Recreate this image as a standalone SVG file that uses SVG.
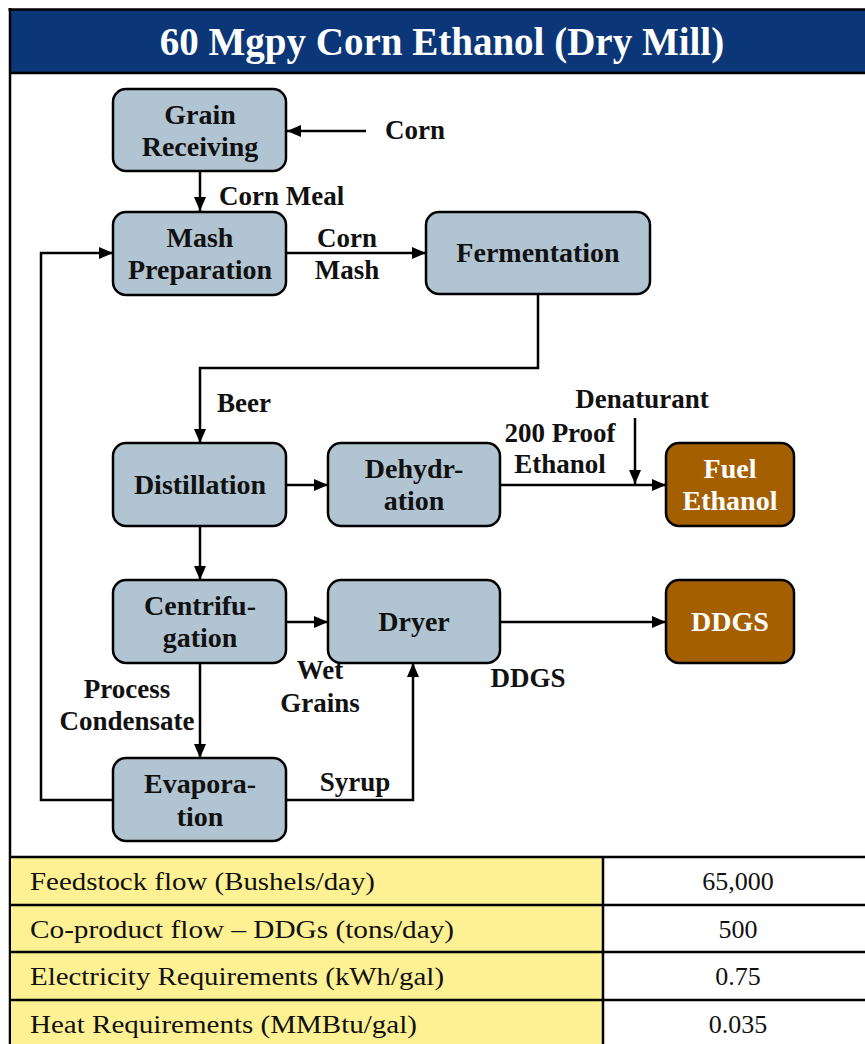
<svg xmlns="http://www.w3.org/2000/svg" width="865" height="1044" viewBox="0 0 865 1044">
  <style>
    .box { fill: #b1c4d1; stroke: #000; stroke-width: 2.5; }
    .prod { fill: #a35f00; stroke: #000; stroke-width: 2.5; }
    .lbl { font-family: "Liberation Serif", "Times New Roman", serif; font-weight: bold; font-size: 28px; fill: #111; text-anchor: middle; }
    .wlbl { font-family: "Liberation Serif", "Times New Roman", serif; font-weight: bold; font-size: 28px; fill: #fff; text-anchor: middle; }
    .flow { font-family: "Liberation Serif", "Times New Roman", serif; font-weight: bold; font-size: 27px; fill: #111; }
    .wire { fill: none; stroke: #000; stroke-width: 2.5; }
    .cell { font-family: "Liberation Serif", "Times New Roman", serif; font-size: 26px; fill: #111; }
    .grid { stroke: #000; stroke-width: 2.5; }
  </style>
  <defs>
    <marker id="arrow" markerUnits="userSpaceOnUse" markerWidth="16" markerHeight="14" refX="14" refY="6" orient="auto">
      <path d="M0,0 L14,6 L0,12 z" fill="#000"/>
    </marker>
  </defs>

  <!-- page background and frame -->
  <rect x="0" y="0" width="865" height="1044" fill="#fff"/>
  <rect x="10" y="10" width="860" height="63" fill="#0b3677"/>
  <line x1="8.5" y1="9.5" x2="865" y2="9.5" class="grid" stroke-width="3"/>
  <line x1="10" y1="73" x2="865" y2="73" class="grid" stroke-width="3"/>
  <line x1="10" y1="8" x2="10" y2="1044" class="grid" stroke-width="3"/>
  <text x="442" y="55" font-family="Liberation Serif, Times New Roman, serif" font-weight="bold" font-size="39" fill="#fff" text-anchor="middle">60 Mgpy Corn Ethanol (Dry Mill)</text>

  <!-- connectors -->
  <g id="connectors">
    <line class="wire" x1="366" y1="131" x2="287" y2="131" marker-end="url(#arrow)"/>
    <line class="wire" x1="200" y1="172" x2="200" y2="211" marker-end="url(#arrow)"/>
    <line class="wire" x1="286" y1="253" x2="426" y2="253" marker-end="url(#arrow)"/>
    <path class="wire" d="M538,294 V368 H200 V443" marker-end="url(#arrow)"/>
    <line class="wire" x1="286" y1="485" x2="328" y2="485" marker-end="url(#arrow)"/>
    <line class="wire" x1="500" y1="485" x2="666" y2="485" marker-end="url(#arrow)"/>
    <line class="wire" x1="635" y1="418" x2="635" y2="484" marker-end="url(#arrow)"/>
    <line class="wire" x1="200" y1="526" x2="200" y2="580" marker-end="url(#arrow)"/>
    <line class="wire" x1="286" y1="622" x2="328" y2="622" marker-end="url(#arrow)"/>
    <line class="wire" x1="500" y1="622" x2="666" y2="622" marker-end="url(#arrow)"/>
    <line class="wire" x1="200" y1="663" x2="200" y2="758" marker-end="url(#arrow)"/>
    <path class="wire" d="M286,800 H413 V663" marker-end="url(#arrow)"/>
    <path class="wire" d="M113,800 H41 V253 H113" marker-end="url(#arrow)"/>
  </g>

  <!-- stream labels -->
  <g id="stream-labels">
    <text class="flow" x="385" y="139">Corn</text>
    <text class="flow" x="219" y="205">Corn Meal</text>
    <text class="flow" x="347" y="247" text-anchor="middle">Corn</text>
    <text class="flow" x="347" y="279" text-anchor="middle">Mash</text>
    <text class="flow" x="217" y="412">Beer</text>
    <text class="flow" x="642" y="408" text-anchor="middle">Denaturant</text>
    <text class="flow" x="560" y="442" text-anchor="middle">200 Proof</text>
    <text class="flow" x="560" y="473" text-anchor="middle">Ethanol</text>
    <text class="flow" x="320" y="679" text-anchor="middle">Wet</text>
    <text class="flow" x="320" y="712" text-anchor="middle">Grains</text>
    <text class="flow" x="127" y="698" text-anchor="middle">Process</text>
    <text class="flow" x="127" y="730" text-anchor="middle">Condensate</text>
    <text class="flow" x="528" y="687" text-anchor="middle">DDGS</text>
    <text class="flow" x="355" y="791" text-anchor="middle">Syrup</text>
  </g>

  <!-- process units -->
  <g id="grain-receiving">
    <rect class="box" x="113" y="89" width="173" height="82" rx="13"/>
    <text class="lbl" x="200" y="124">Grain</text>
    <text class="lbl" x="200" y="156">Receiving</text>
  </g>
  <g id="mash-preparation">
    <rect class="box" x="113" y="212" width="173" height="83" rx="13"/>
    <text class="lbl" x="200" y="247">Mash</text>
    <text class="lbl" x="200" y="279">Preparation</text>
  </g>
  <g id="fermentation">
    <rect class="box" x="426" y="212" width="224" height="82" rx="13"/>
    <text class="lbl" x="538" y="262">Fermentation</text>
  </g>
  <g id="distillation">
    <rect class="box" x="113" y="443" width="173" height="83" rx="13"/>
    <text class="lbl" x="200" y="494">Distillation</text>
  </g>
  <g id="dehydration">
    <rect class="box" x="328" y="443" width="172" height="83" rx="13"/>
    <text class="lbl" x="414" y="478">Dehydr-</text>
    <text class="lbl" x="414" y="510">ation</text>
  </g>
  <g id="fuel-ethanol">
    <rect class="prod" x="666" y="443" width="128" height="83" rx="13"/>
    <text class="wlbl" x="730" y="478">Fuel</text>
    <text class="wlbl" x="730" y="510">Ethanol</text>
  </g>
  <g id="centrifugation">
    <rect class="box" x="113" y="580" width="173" height="83" rx="13"/>
    <text class="lbl" x="200" y="615">Centrifu-</text>
    <text class="lbl" x="200" y="647">gation</text>
  </g>
  <g id="dryer">
    <rect class="box" x="328" y="580" width="172" height="83" rx="13"/>
    <text class="lbl" x="414" y="631">Dryer</text>
  </g>
  <g id="ddgs">
    <rect class="prod" x="666" y="580" width="128" height="83" rx="13"/>
    <text class="wlbl" x="730" y="631">DDGS</text>
  </g>
  <g id="evaporation">
    <rect class="box" x="113" y="758" width="173" height="83" rx="13"/>
    <text class="lbl" x="200" y="793">Evapora-</text>
    <text class="lbl" x="200" y="826">tion</text>
  </g>

  <!-- summary table -->
  <g id="summary-table">
    <rect x="11" y="857" width="591" height="187" fill="#fdf194"/>
    <line class="grid" x1="10" y1="857" x2="865" y2="857" stroke-width="3"/>
    <line class="grid" x1="10" y1="905" x2="865" y2="905"/>
    <line class="grid" x1="10" y1="952" x2="865" y2="952"/>
    <line class="grid" x1="10" y1="1000" x2="865" y2="1000"/>
    <line class="grid" x1="603" y1="857" x2="603" y2="1044"/>
    <text class="cell" x="30" y="890" textLength="345" lengthAdjust="spacingAndGlyphs">Feedstock flow (Bushels/day)</text>
    <text class="cell" x="30" y="938" textLength="424" lengthAdjust="spacingAndGlyphs">Co-product flow – DDGs (tons/day)</text>
    <text class="cell" x="30" y="985" textLength="414" lengthAdjust="spacingAndGlyphs">Electricity Requirements (kWh/gal)</text>
    <text class="cell" x="30" y="1033" textLength="387" lengthAdjust="spacingAndGlyphs">Heat Requirements (MMBtu/gal)</text>
    <text class="cell" x="738" y="890" text-anchor="middle">65,000</text>
    <text class="cell" x="738" y="938" text-anchor="middle">500</text>
    <text class="cell" x="738" y="985" text-anchor="middle">0.75</text>
    <text class="cell" x="738" y="1033" text-anchor="middle">0.035</text>
  </g>
</svg>
